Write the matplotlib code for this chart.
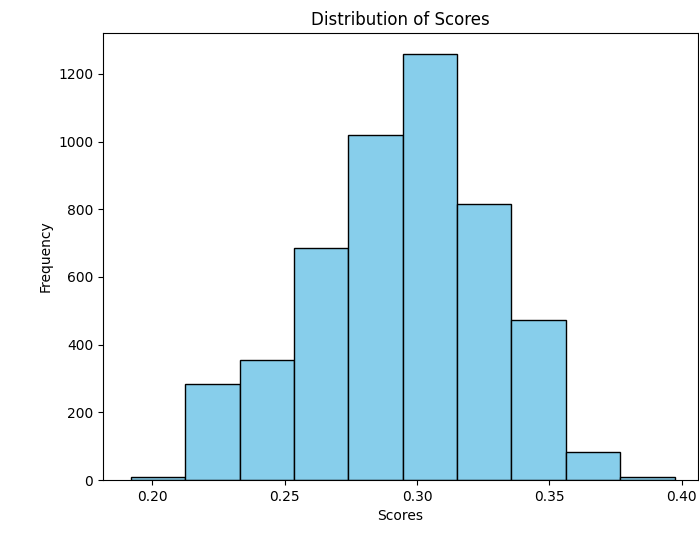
import matplotlib
matplotlib.use('Agg')
import matplotlib.pyplot as plt

# bin edges and counts
bin_edges = [0.1918, 0.2124, 0.2329, 0.2535, 0.2740, 0.2946,
             0.3152, 0.3357, 0.3563, 0.3768, 0.3974]
counts = [10, 284, 356, 687, 1019, 1258, 815, 474, 84, 10]
centers = [(a + b) / 2 for a, b in zip(bin_edges[:-1], bin_edges[1:])]
xticks = [0.20, 0.25, 0.30, 0.35, 0.40]
xtick_labels = ['0.20', '0.25', '0.30', '0.35', '0.40']

fig = plt.figure(figsize=(6.99, 5.35), dpi=100)
ax = fig.add_axes([103 / 699, 55 / 535, 595 / 699, 447 / 535])
ax.hist(centers, bins=bin_edges, weights=counts, color='skyblue', edgecolor='black')
ax.set_xlim(0.1813, 0.4062)
ax.set_xticks(xticks)
ax.set_xticklabels(xtick_labels)
ax.set_title('Distribution of Scores')
ax.set_xlabel('Scores')
ax.set_ylabel('Frequency')
fig.savefig('out.png', dpi=100)
